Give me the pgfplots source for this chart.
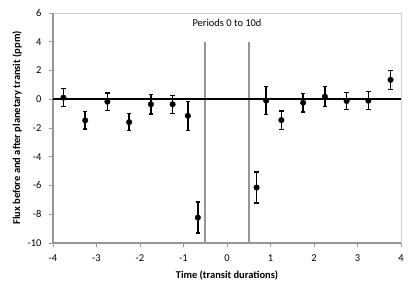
\documentclass[border=0pt]{standalone}
\usepackage{fontspec}
\setmainfont{Carlito}
\usepackage{pgfplots}
\pgfplotsset{compat=1.18}
\definecolor{axgray}{RGB}{150,150,150}
\definecolor{frgray}{RGB}{205,205,205}
\definecolor{vgray}{RGB}{150,150,150}
\begin{document}
\begin{tikzpicture}
\begin{axis}[
  scale only axis,
  width=348bp, height=230bp,
  xmin=-4, xmax=4, ymin=-10, ymax=6,
  xtick={-4,-3,...,4}, ytick={-10,-8,...,6},
  /pgf/number format/assume math mode=true,
  tick label style={font=\fontsize{10.5}{12}\selectfont, color=black},
  xticklabel style={yshift=-4bp},
  yticklabel style={xshift=-4bp},
  xlabel={\textbf{Time (transit durations)}},
  ylabel={\textbf{Flux before and after planetary transit (ppm)}},
  label style={font=\fontsize{10.5}{12}\selectfont},
  xlabel style={yshift=-3bp},
  ylabel style={yshift=-1bp},
  axis line style={frgray, line width=1pt},
  tick align=outside,
  tick style={axgray, line width=1pt},
  major tick length=4bp,
  xtick pos=bottom, ytick pos=left,
  clip=false,
]
% axis frame lines
\draw[axgray, line width=1.2pt] (rel axis cs:0,0) -- (rel axis cs:1,0);
\draw[axgray, line width=1.2pt] (rel axis cs:0,0) -- (rel axis cs:0,1);
% vertical markers
\addplot[vgray, line width=1.8pt, forget plot] coordinates {(-0.5,4) (-0.5,-10)};
\addplot[vgray, line width=1.8pt, forget plot] coordinates {(0.5,4) (0.5,-10)};
% zero line
\addplot[black, line width=1.6pt, forget plot] coordinates {(-4,0) (4,0)};
% data
\addplot[only marks, mark=*, mark size=2.8pt, black,
  error bars/.cd, y dir=both, y explicit,
  error bar style={line width=1.5pt, black},
  error mark options={rotate=90, mark size=2.2pt, line width=1.2pt, black}]
  coordinates {
  (-3.76,0.11) +- (0,0.63)
  (-3.26,-1.47) +- (0,0.60)
  (-2.75,-0.17) +- (0,0.60)
  (-2.25,-1.59) +- (0,0.58)
  (-1.75,-0.35) +- (0,0.67)
  (-1.25,-0.35) +- (0,0.63)
  (-0.90,-1.15) +- (0,1.00)
  (-0.67,-8.23) +- (0,1.08)
  (0.68,-6.14) +- (0,1.08)
  (0.90,-0.10) +- (0,0.97)
  (1.25,-1.45) +- (0,0.63)
  (1.75,-0.24) +- (0,0.65)
  (2.25,0.18) +- (0,0.69)
  (2.75,-0.12) +- (0,0.61)
  (3.25,-0.10) +- (0,0.62)
  (3.76,1.35) +- (0,0.67)
  };
\node[font=\fontsize{10.5}{12}\selectfont] at (axis cs:0,5.3) {Periods 0 to 10d};
\end{axis}
\pgfresetboundingbox
\path[use as bounding box] ([xshift=-53bp,yshift=-50bp]current axis.south west) rectangle ([xshift=14bp,yshift=13bp]current axis.north east);
\end{tikzpicture}
\end{document}
